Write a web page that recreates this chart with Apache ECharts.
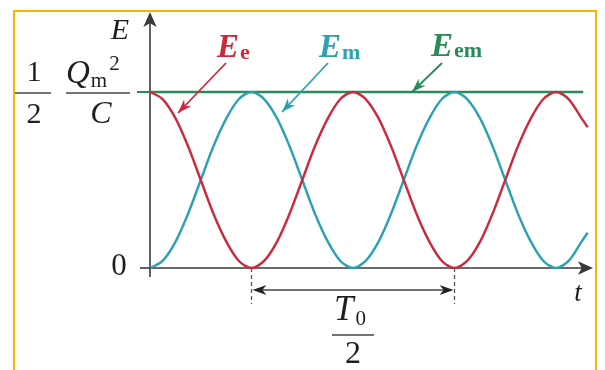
<!DOCTYPE html>
<html><head><meta charset="utf-8">
<script src="https://cdn.jsdelivr.net/npm/echarts@6/dist/echarts.min.js"></script>
<style>html,body{margin:0;padding:0;background:#fff}#c{width:605px;height:370px}</style>
</head><body><div id="c"></div>
<script>
// Time samples in units of T0
const tValues = [0, 0.031, 0.063, 0.094, 0.125, 0.156, 0.188, 0.219, 0.25, 0.281, 0.313, 0.344,
  0.375, 0.406, 0.438, 0.469, 0.5, 0.531, 0.563, 0.594, 0.625, 0.656, 0.688, 0.719, 0.75,
  0.781, 0.813, 0.844, 0.875, 0.906, 0.938, 0.969, 1.0, 1.031, 1.063, 1.078];
// Electric energy Ee (in units of Qm^2/2C)
const eeValues = [1, 0.96, 0.85, 0.69, 0.5, 0.31, 0.15, 0.04, 0, 0.04, 0.15, 0.31,
  0.5, 0.69, 0.85, 0.96, 1, 0.96, 0.85, 0.69, 0.5, 0.31, 0.15, 0.04, 0,
  0.04, 0.15, 0.31, 0.5, 0.69, 0.85, 0.96, 1, 0.96, 0.85, 0.8];
// Magnetic energy Em
const emValues = [0, 0.04, 0.15, 0.31, 0.5, 0.69, 0.85, 0.96, 1, 0.96, 0.85, 0.69,
  0.5, 0.31, 0.15, 0.04, 0, 0.04, 0.15, 0.31, 0.5, 0.69, 0.85, 0.96, 1,
  0.96, 0.85, 0.69, 0.5, 0.31, 0.15, 0.04, 0, 0.04, 0.15, 0.2];
// Total energy Eem
const emTotalT = [0, 1.067];
const emTotalValues = [1, 1];
// Ee minima bounding one energy period (T0/2)
const halfPeriodMarks = [0.25, 0.75];

const RED = '#cc2a3c', TEAL = '#2ba2b2', GREEN = '#2a8a58', AXIS = '#3a3a3a', INK = '#1e1e1e';
const SERIF = '"Liberation Serif", "DejaVu Serif", serif';

const chart = echarts.init(document.getElementById('c'), null, {renderer: 'canvas'});
const pair = (xs, ys) => xs.map((x, i) => [x, ys[i]]);

chart.setOption({
  backgroundColor: '#fff',
  animation: false,
  grid: {left: 150, right: 15, top: 15, bottom: 102},
  xAxis: {
    type: 'value', min: 0, max: 1.0837,
    axisLine: {lineStyle: {color: AXIS, width: 1.6}, symbol: ['none', 'arrow'], symbolSize: [10, 15], symbolOffset: [0, 3]},
    axisTick: {show: false}, axisLabel: {show: false}, splitLine: {show: false}
  },
  yAxis: {
    type: 'value', min: 0, max: 1.4375,
    axisLine: {lineStyle: {color: AXIS, width: 1.6}, symbol: ['none', 'arrow'], symbolSize: [10, 15], symbolOffset: [0, 3]},
    axisTick: {show: false}, axisLabel: {show: false}, splitLine: {show: false}
  },
  series: [
    {type: 'line', data: pair(emTotalT, emTotalValues), showSymbol: false, lineStyle: {color: GREEN, width: 2.4}, z: 3},
    {type: 'line', data: pair(tValues, emValues), smooth: 0.3, showSymbol: false, lineStyle: {color: TEAL, width: 2.4}, z: 4},
    {type: 'line', data: pair(tValues, eeValues), smooth: 0.3, showSymbol: false, lineStyle: {color: RED, width: 2.4}, z: 5}
  ]
});

const px = (x, y) => chart.convertToPixel({gridIndex: 0}, [x, y]);
const [x0, y0] = px(0, 0);
const y1 = px(0, 1)[1];

const measureCtx = document.createElement('canvas').getContext('2d');
function textWidth(text, font) { measureCtx.font = font; return measureCtx.measureText(text).width; }

function txt(x, y, text, font, fill, align) {
  return {type: 'text', z: 100, style: {x, y, text, font, fill: fill || INK, align: align || 'center', verticalAlign: 'middle'}};
}
// symbol with a subscript (dy > 0) or superscript (dy < 0) set right after it
function withSub(x, y, main, mainFont, sub, subFont, dy, fill, gap) {
  const w = textWidth(main, mainFont);
  return [txt(x, y, main, mainFont, fill, 'left'), txt(x + w + (gap || 0), y + dy, sub, subFont, fill, 'left')];
}
function seg(xa, ya, xb, yb, color, width, dash) {
  return {type: 'line', z: 100, shape: {x1: xa, y1: ya, x2: xb, y2: yb},
    style: {stroke: color, lineWidth: width || 1.5, lineDash: dash || null}};
}
function head(xf, yf, xt, yt, color, len, wid) {
  const dx = xt - xf, dy = yt - yf, d = Math.hypot(dx, dy);
  const ux = dx / d, uy = dy / d, nx = -uy, ny = ux;
  const bx = xt - ux * len, by = yt - uy * len;
  const mx = xt - ux * len * 0.7, my = yt - uy * len * 0.7;
  return {type: 'polygon', z: 101, shape: {points: [[xt, yt], [bx + nx * wid / 2, by + ny * wid / 2], [mx, my], [bx - nx * wid / 2, by - ny * wid / 2]]},
    style: {fill: color}};
}
function arrow(xf, yf, xt, yt, color) {
  return [seg(xf, yf, xt, yt, color, 1.8), head(xf, yf, xt, yt, color, 14, 10)];
}

const els = [];
// axis overshoot at the origin and tick at the top level
els.push(seg(x0 - 10, y0, x0, y0, AXIS, 1.6));
els.push(seg(x0, y0, x0, y0 + 9, AXIS, 1.6));
els.push(seg(x0 - 13, y1, x0, y1, GREEN, 2));

// y-axis labels
els.push(txt(120, 31, 'E', 'italic 30px ' + SERIF));
els.push(txt(119, y0 - 1, '0', '31px ' + SERIF));
els.push(txt(34, y1 - 19, '1', '30px ' + SERIF));
els.push(seg(15, y1 + 1, 51, y1 + 1, '#444', 1.6));
els.push(txt(34, y1 + 23, '2', '30px ' + SERIF));
const qFont = 'italic 33px ' + SERIF, qSubFont = '21px ' + SERIF;
els.push(...withSub(66, y1 - 18, 'Q', qFont, 'm', qSubFont, 7, INK, 1));
const supX = 66 + textWidth('Q', qFont) + 1 + textWidth('m', qSubFont) + 2;
els.push(txt(supX, y1 - 28, '2', '21px ' + SERIF, INK, 'left'));
els.push(seg(66, y1 + 1, 130, y1 + 1, '#444', 1.6));
els.push(txt(101, y1 + 23, 'C', 'italic 32px ' + SERIF));
// x-axis label
els.push(txt(578, 294, 't', 'italic 27px ' + SERIF));

// curve names
const nameFont = 'italic bold 33px ' + SERIF, subFont = 'bold 22px ' + SERIF;
els.push(...withSub(217, 48, 'E', nameFont, 'e', subFont, 5, RED, 1));
els.push(...withSub(319, 48, 'E', nameFont, 'm', subFont, 5, TEAL, 1));
els.push(...withSub(431, 47, 'E', nameFont, 'em', subFont, 4, GREEN, 1));
els.push(...arrow(226, 63, 178, 113, RED));
els.push(...arrow(328, 63, 282, 112, TEAL));
els.push(...arrow(442, 63, 412, 92, GREEN));

// half-period span between Ee minima
const xa = px(halfPeriodMarks[0], 0)[0], xb = px(halfPeriodMarks[1], 0)[0];
els.push(seg(xa, y0, xa, y0 + 36, '#555', 1.3, [4, 3]));
els.push(seg(xb, y0, xb, y0 + 36, '#555', 1.3, [4, 3]));
els.push(seg(xa + 4, y0 + 22, xb - 4, y0 + 22, '#444', 1.5));
els.push(head(xb, y0 + 22, xa + 1, y0 + 22, '#222', 14, 10));
els.push(head(xa, y0 + 22, xb - 1, y0 + 22, '#222', 14, 10));
const xm = (xa + xb) / 2;
els.push(...withSub(xm - 19, 311, 'T', 'italic 35px ' + SERIF, '0', '21px ' + SERIF, 8, INK, 2));
els.push(seg(xm - 21, 335, xm + 21, 335, '#444', 1.6));
els.push(txt(xm, 355, '2', '32px ' + SERIF));

// frame
els.push({type: 'polyline', z: 100, shape: {points: [[14, 370], [14, 11], [596, 11], [596, 370]]},
  style: {stroke: '#f7b500', lineWidth: 2, fill: null}});

chart.setOption({graphic: {elements: els}});
</script>
</body></html>
